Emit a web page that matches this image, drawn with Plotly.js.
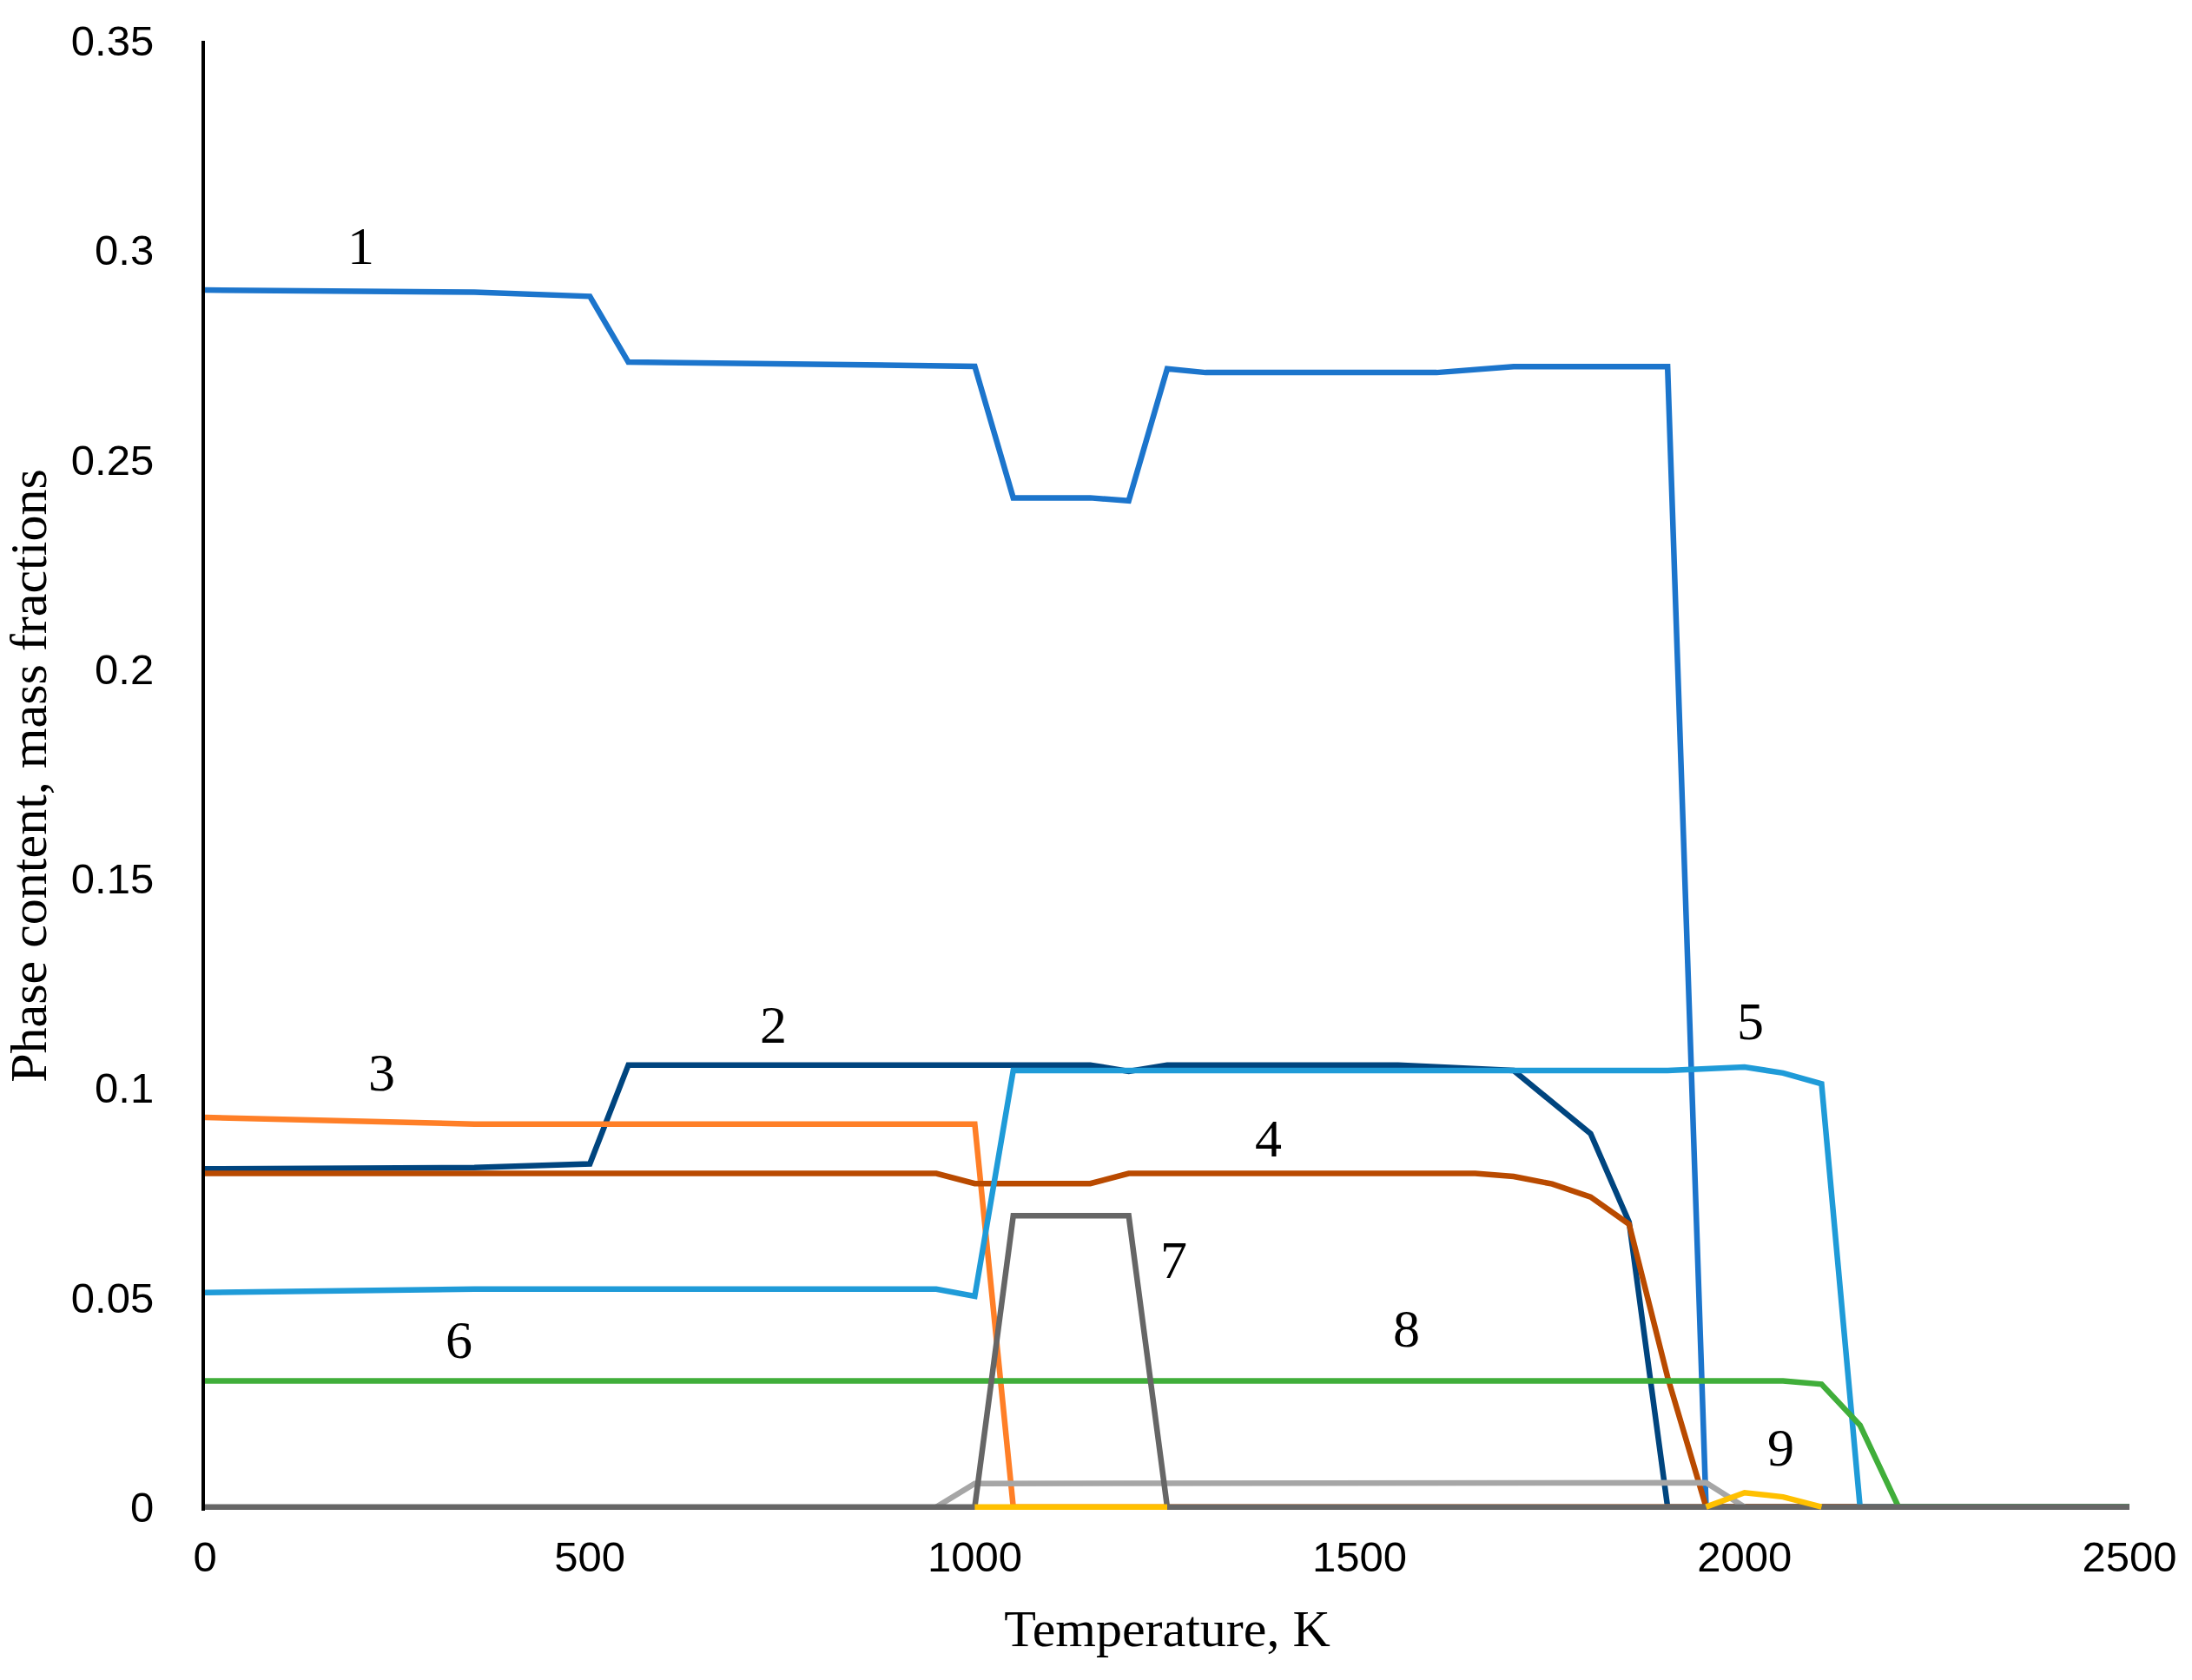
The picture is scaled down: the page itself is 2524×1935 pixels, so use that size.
<!DOCTYPE html>
<html>
<head>
<meta charset="utf-8">
<script src="https://cdn.plot.ly/plotly-3.0.1.min.js"></script>
<style>
  html, body { margin: 0; padding: 0; background: #fff; }
  #chart { width: 2524px; height: 1935px; }
</style>
</head>
<body>
<div id="chart"></div>
<script>
// temperature (K) and phase content (mass fractions) per curve
var t1 = [0, 350, 500, 550, 1000, 1050, 1150, 1200, 1250, 1300, 1600, 1700, 1900, 1950, 2500];
var v1 = [0.2905, 0.2900, 0.2890, 0.2733, 0.2723, 0.2409, 0.2409, 0.2402, 0.2717, 0.2708, 0.2708, 0.2722, 0.2722, 0, 0];

var t2 = [0, 350, 500, 550, 1000, 1150, 1200, 1250, 1550, 1700, 1800, 1850, 1900, 2500];
var v2 = [0.0807, 0.0810, 0.0819, 0.1055, 0.1055, 0.1055, 0.1040, 0.1055, 0.1055, 0.1042, 0.0891, 0.0680, 0, 0];

var t3 = [0, 350, 1000, 1050, 2500];
var v3 = [0.0930, 0.0914, 0.0914, 0, 0];

var t4 = [0, 950, 1000, 1150, 1200, 1650, 1700, 1750, 1800, 1850, 1900, 1950, 2500];
var v4 = [0.0796, 0.0796, 0.0772, 0.0772, 0.0796, 0.0796, 0.0789, 0.0771, 0.0740, 0.0675, 0.0310, 0, 0];

var t5 = [0, 350, 950, 1000, 1050, 1900, 2000, 2050, 2100, 2150, 2500];
var v5 = [0.0512, 0.0520, 0.0520, 0.0503, 0.1042, 0.1042, 0.1050, 0.1036, 0.1010, 0, 0];

var t6 = [0, 2050, 2100, 2150, 2200, 2500];
var v6 = [0.0301, 0.0301, 0.0293, 0.0195, 0, 0];

var t7 = [0, 1000, 1050, 1200, 1250, 2500];
var v7 = [0, 0, 0.0695, 0.0695, 0, 0];

var t8 = [950, 1000, 1950, 2000];
var v8 = [0, 0.0056, 0.0058, 0];

var t9 = [1000, 1250, 1600, 1950, 2000, 2050, 2100];
var v9 = [0, 0, null, 0, 0.0034, 0.0024, 0];

var colors = ['#1C75CC', '#00457F', '#FF7F27', '#B94A00', '#1F9BD8', '#40AE3A', '#666666', '#A6A6A6', '#FFC000'];

// curve numbers written on the chart
var labelText = ['1', '2', '3', '4', '5', '6', '7', '8', '9'];
var labelT = [203, 738, 230, 1381, 2008, 330, 1259, 1561, 2047];
var labelV = [0.3010, 0.1152, 0.1038, 0.0880, 0.1160, 0.0400, 0.0590, 0.0427, 0.0143];

var series = [[t1, v1], [t2, v2], [t3, v3], [t4, v4], [t5, v5], [t6, v6], [t8, v8], [t7, v7], [t9, v9]];
var colorIdx = [0, 1, 2, 3, 4, 5, 7, 6, 8];

var traces = series.map(function (s, i) {
  return {
    x: s[0],
    y: s[1],
    type: 'scatter',
    mode: 'lines',
    connectgaps: false,
    line: { color: colors[colorIdx[i]], width: 6.5 },
    hoverinfo: 'x+y'
  };
});

var annotations = labelText.map(function (txt, i) {
  return {
    x: labelT[i], y: labelV[i], xref: 'x', yref: 'y',
    text: txt, showarrow: false,
    font: { family: 'Liberation Serif, Times New Roman, serif', size: 62, color: '#000' }
  };
});

var layout = {
  width: 2524,
  height: 1935,
  margin: { l: 236, r: 72, t: 47, b: 195 },
  paper_bgcolor: '#fff',
  plot_bgcolor: '#fff',
  showlegend: false,
  xaxis: {
    range: [0, 2500],
    tickmode: 'linear', tick0: 0, dtick: 500,
    showgrid: false, zeroline: false,
    showline: false,
    ticks: '',
    ticklabelstandoff: 20,
    tickfont: { family: 'Liberation Sans, Arial, sans-serif', size: 49, color: '#000' },
    title: {
      text: 'Temperature, K',
      standoff: 34,
      font: { family: 'Liberation Serif, Times New Roman, serif', size: 60, color: '#000' }
    }
  },
  yaxis: {
    range: [-0.0009, 0.35],
    tickmode: 'array',
    tickvals: [0, 0.05, 0.1, 0.15, 0.2, 0.25, 0.3, 0.35],
    ticktext: ['0', '0.05', '0.1', '0.15', '0.2', '0.25', '0.3', '0.35'],
    showgrid: false, zeroline: false,
    showline: true, linecolor: '#000', linewidth: 4,
    ticks: '',
    ticklabelstandoff: 45,
    tickfont: { family: 'Liberation Sans, Arial, sans-serif', size: 49, color: '#000' },
    title: {
      text: 'Phase content, mass fractions',
      standoff: 22,
      font: { family: 'Liberation Serif, Times New Roman, serif', size: 60, color: '#000' }
    }
  },
  annotations: annotations
};

Plotly.newPlot('chart', traces, layout, { displayModeBar: false, staticPlot: true });
</script>
</body>
</html>
